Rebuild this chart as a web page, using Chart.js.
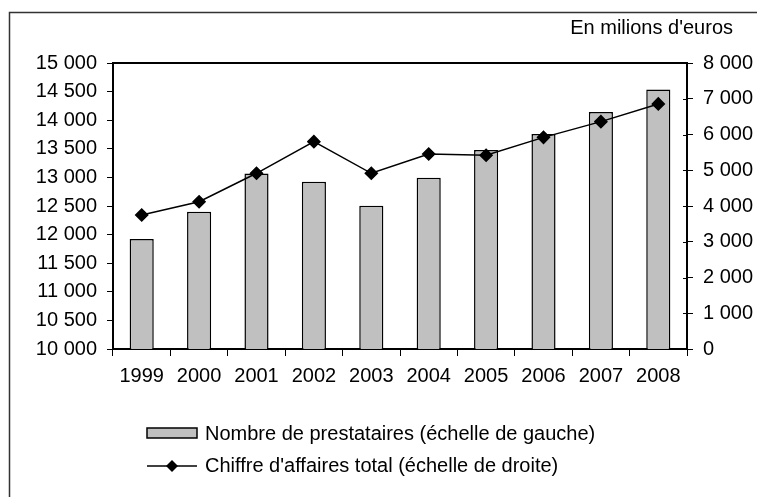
<!DOCTYPE html>
<html>
<head>
<meta charset="utf-8">
<script src="https://cdn.jsdelivr.net/npm/chart.js@4.4.1/dist/chart.umd.min.js"></script>
<style>
  html, body { margin: 0; padding: 0; background: #fff; }
  #wrap { width: 757px; height: 497px; }
</style>
</head>
<body>
<div id="wrap"><canvas id="chart" width="757" height="497"></canvas></div>
<script>
const years = ['1999', '2000', '2001', '2002', '2003', '2004', '2005', '2006', '2007', '2008'];
const prestataires = [11925, 12400, 13070, 12925, 12505, 12995, 13480, 13760, 14145, 14535];
const chiffreAffaires = [3750, 4120, 4915, 5800, 4915, 5455, 5420, 5920, 6360, 6855];
const leftTicks = [10000, 10500, 11000, 11500, 12000, 12500, 13000, 13500, 14000, 14500, 15000];
const rightTicks = [0, 1000, 2000, 3000, 4000, 5000, 6000, 7000, 8000];

const FONT = 'Liberation Sans, Arial, sans-serif';
const FS = 20;

function fmt(v) {
    return String(v).replace(/\B(?=(\d{3})+(?!\d))/g, ' ');
}

// frame, plot border, unit caption and legend
const decor = {
    id: 'decor',
    afterDraw(chart) {
        const ctx = chart.ctx;
        const a = chart.chartArea;
        ctx.save();
        ctx.strokeStyle = '#333';
        ctx.lineWidth = 1.5;
        ctx.strokeRect(9.5, 12.5, 800, 600);

        ctx.strokeStyle = '#000';
        ctx.lineWidth = 2;
        ctx.beginPath();
        ctx.moveTo(a.left, a.top);
        ctx.lineTo(a.right, a.top);
        ctx.stroke();

        // right axis ticks also cross into the plot
        const y2 = chart.scales.y2;
        ctx.lineWidth = 1;
        ctx.beginPath();
        rightTicks.forEach(v => {
            const py = Math.round(y2.getPixelForValue(v)) + 0.5;
            ctx.moveTo(a.right - 4, py);
            ctx.lineTo(a.right, py);
        });
        ctx.stroke();

        ctx.fillStyle = '#000';
        ctx.font = FS + 'px ' + FONT;
        ctx.textAlign = 'right';
        ctx.textBaseline = 'middle';
        ctx.fillText("En milions d'euros", 733, 28);

        // legend
        const bars = chart.data.datasets[1];
        const line = chart.data.datasets[0];
        ctx.textAlign = 'left';
        ctx.fillStyle = '#c0c0c0';
        ctx.fillRect(147, 428, 50, 10);
        ctx.lineWidth = 1.5;
        ctx.strokeRect(147, 428, 50, 10);
        ctx.fillStyle = '#000';
        ctx.fillText(bars.label, 205, 434);

        ctx.beginPath();
        ctx.moveTo(147, 466);
        ctx.lineTo(197, 466);
        ctx.stroke();
        ctx.beginPath();
        ctx.moveTo(172, 460);
        ctx.lineTo(178, 466);
        ctx.lineTo(172, 472);
        ctx.lineTo(166, 466);
        ctx.closePath();
        ctx.fill();
        ctx.fillText(line.label, 205, 466);
        ctx.restore();
    }
};

new Chart(document.getElementById('chart'), {
    type: 'bar',
    data: {
        labels: years,
        datasets: [{
            type: 'line',
            label: "Chiffre d'affaires total (échelle de droite)",
            data: chiffreAffaires,
            yAxisID: 'y2',
            borderColor: '#000',
            borderWidth: 1.5,
            pointStyle: 'rectRot',
            pointRadius: 6,
            pointBackgroundColor: '#000',
            pointBorderColor: '#000',
            tension: 0,
            order: 0
        }, {
            label: 'Nombre de prestataires (échelle de gauche)',
            data: prestataires,
            yAxisID: 'y',
            backgroundColor: '#c0c0c0',
            borderColor: '#000',
            borderWidth: 1.5,
            borderSkipped: false,
            categoryPercentage: 0.84,
            barPercentage: 0.5,
            order: 1
        }]
    },
    options: {
        responsive: false,
        animation: false,
        layout: { padding: { left: 0, right: 0, top: 63, bottom: 106 } },
        plugins: {
            legend: { display: false },
            tooltip: { enabled: false }
        },
        scales: {
            x: {
                offset: true,
                grid: { offset: true, drawOnChartArea: false, drawTicks: true, tickLength: 7, color: '#000', lineWidth: 1 },
                border: { display: true, color: '#000', width: 2 },
                ticks: { color: '#000', font: { family: FONT, size: FS }, padding: 8, maxRotation: 0 },
                afterFit(s) { s.height = 42; }
            },
            y: {
                position: 'left',
                min: 10000,
                max: 15000,
                afterBuildTicks(s) { s.ticks = leftTicks.map(v => ({ value: v })); },
                grid: { drawOnChartArea: false, drawTicks: true, tickLength: 6, color: '#000', lineWidth: 1 },
                border: { display: true, color: '#000', width: 2 },
                ticks: { color: '#000', font: { family: FONT, size: FS }, padding: 10, callback: v => fmt(v) },
                afterFit(s) { s.width = 113; }
            },
            y2: {
                position: 'right',
                min: 0,
                max: 8000,
                afterBuildTicks(s) { s.ticks = rightTicks.map(v => ({ value: v })); },
                grid: { drawOnChartArea: false, drawTicks: true, tickLength: 6, color: '#000', lineWidth: 1 },
                border: { display: true, color: '#000', width: 2 },
                ticks: { color: '#000', font: { family: FONT, size: FS }, padding: 10, callback: v => fmt(v) },
                afterFit(s) { s.width = 70; }
            }
        }
    },
    plugins: [decor]
});
</script>
</body>
</html>
